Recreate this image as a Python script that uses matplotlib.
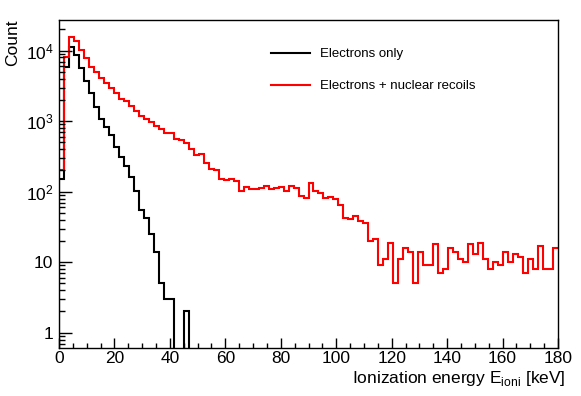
import matplotlib

matplotlib.use("Agg")
import matplotlib.pyplot as plt
import numpy as np
from matplotlib.lines import Line2D
from matplotlib.ticker import FixedFormatter, FixedLocator, LogLocator, MultipleLocator, NullFormatter

plt.rcParams["font.family"] = ["Liberation Sans", "DejaVu Sans"]

BIN = 1.8  # keV per bin (100 bins over 0-180 keV)

# counts per bin
electrons = [150, 5930, 11170, 8690, 5740, 3720, 2510, 1610, 1075, 820,
             631, 427, 313, 234, 163, 102, 55, 43, 25, 14,
             5, 3, 3, 0, 0, 2]
electrons_nr = [200, 8220, 15800, 13600, 10200, 7960, 5930, 4940, 4060, 3450,
                2930, 2540, 2070, 1940, 1640, 1410, 1200, 1075, 975, 841,
                775, 680, 673, 554, 541, 495, 408, 332, 343, 253,
                208, 203, 150, 147, 151, 142, 103, 118, 110, 109,
                114, 120, 108, 112, 118, 102, 122, 112, 87, 82,
                134, 103, 95, 81, 85, 79, 65, 43, 41, 45,
                38, 36, 20, 21, 9, 11, 19, 5, 11, 16,
                14, 5, 14, 9, 9, 18, 7, 8, 16, 14,
                11, 10, 18, 13, 19, 11, 8, 10, 9, 14,
                10, 13, 12, 7, 11, 8, 17, 8, 8, 16]
labels = ["Electrons only", "Electrons + nuclear recoils"]
yticks = [1, 10, 100, 1000, 10000]
yticklabels = ["1", "10", r"$\mathregular{10^{2}}$", r"$\mathregular{10^{3}}$", r"$\mathregular{10^{4}}$"]


def edges(vals):
    return np.arange(len(vals) + 1) * BIN


fig = plt.figure(figsize=(5.81, 3.96), dpi=100)
ax = fig.add_axes([59 / 581, 48 / 396, 499 / 581, 328 / 396])
ax.set_yscale("log")

ax.stairs(electrons, edges(electrons), baseline=1e-3, color="black", lw=1.5)
ax.stairs(electrons_nr, edges(electrons_nr), baseline=None, color="#ff0000", lw=1.5)

ax.set_xlim(0, 180); ax.set_ylim(0.607, 27200)
ax.xaxis.set_major_locator(MultipleLocator(20)); ax.xaxis.set_minor_locator(MultipleLocator(5))
ax.yaxis.set_major_locator(FixedLocator(yticks)); ax.yaxis.set_major_formatter(FixedFormatter(yticklabels))
ax.yaxis.set_minor_locator(LogLocator(subs=np.arange(2, 10))); ax.yaxis.set_minor_formatter(NullFormatter())
ax.tick_params(which="both", direction="in", top=False, right=False, width=1, labelsize=12.5)
ax.tick_params(axis="y", which="major", length=9.6, pad=4)
ax.tick_params(axis="y", which="minor", length=4.5)
ax.tick_params(axis="x", which="major", length=7.2, pad=2.5)
ax.tick_params(axis="x", which="minor", length=3.6)
for s in ax.spines.values():
    s.set_linewidth(1)

ax.set_xlabel(r"Ionization energy E$_{\mathregular{ioni}}$ [keV]", fontsize=12.5, loc="right")
ax.xaxis.set_label_coords(1.016, -0.065)
ax.set_ylabel("Count", fontsize=12.5, loc="top")
ax.yaxis.set_label_coords(-0.078, 1.0)

handles = [Line2D([], [], color="black", lw=1.5), Line2D([], [], color="#ff0000", lw=1.5)]
ax.legend(handles, labels, loc="upper left", bbox_to_anchor=(271 / 581, 1 - 48 / 396),
          bbox_transform=fig.transFigure, frameon=False, fontsize=9.5, handlelength=2.95,
          handletextpad=0.76, labelspacing=1.5, borderpad=0, borderaxespad=0)

fig.savefig("out.png", dpi=100)
